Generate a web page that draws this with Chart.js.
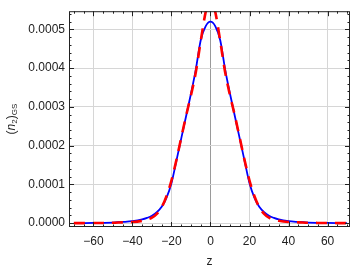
<!DOCTYPE html>
<html>
<head>
<meta charset="utf-8">
<script src="https://cdn.jsdelivr.net/npm/chart.js@4.4.1/dist/chart.umd.min.js"></script>
<style>
  html, body { margin: 0; padding: 0; background: #fff; }
  #wrap { width: 354px; height: 273px; }
</style>
</head>
<body>
<div id="wrap"><canvas id="chart" width="354" height="273"></canvas></div>
<script>
"use strict"
// data
const zValues = [-70, -65, -60, -55, -50, -45, -40, -35, -32.5, -30, -27.5, -25, -22.5, -20, -17.5, -15, -12.5, -10, -7.5, -5, -2.5,
  0, 2.5, 5, 7.5, 10, 12.5, 15, 17.5, 20, 22.5, 25, 27.5, 30, 32.5, 35, 40, 45, 50, 55, 60, 65, 70];

// blue solid curve
const blueValues = [0.0000001, 0.0000002, 0.0000004, 0.0000008, 0.0000015, 0.000003, 0.000005, 0.0000095, 0.0000135, 0.000019, 0.000028, 0.000042, 0.000066, 0.000103, 0.000160, 0.000218, 0.000276, 0.000334, 0.000397, 0.000472, 0.000508,
  0.000520, 0.000508, 0.000472, 0.000397, 0.000334, 0.000276, 0.000218, 0.000160, 0.000103, 0.000066, 0.000042, 0.000028, 0.000019, 0.0000135, 0.0000095, 0.000005, 0.000003, 0.0000015, 0.0000008, 0.0000004, 0.0000002, 0.0000001];

// red dashed curve
const redValues = [0.00000006, 0.00000012, 0.00000025, 0.0000005, 0.000001, 0.000002, 0.0000028, 0.000006, 0.000009, 0.000014, 0.000024, 0.000041, 0.000070, 0.000110, 0.000162, 0.000220, 0.000277, 0.000330, 0.000390, 0.000470, 0.000544,
  0.000585, 0.000544, 0.000470, 0.000390, 0.000330, 0.000277, 0.000220, 0.000162, 0.000110, 0.000070, 0.000041, 0.000024, 0.000014, 0.000009, 0.000006, 0.0000028, 0.000002, 0.000001, 0.0000005, 0.00000025, 0.00000012, 0.00000006];

const xTicks = [-60, -40, -20, 0, 20, 40, 60];
const yTicks = [0, 0.0001, 0.0002, 0.0003, 0.0004, 0.0005];

const FONT = "'Liberation Sans', Arial, sans-serif";
const INK = "#222";

//Ram, inåtriktade streck och axeltitlar
const framePlugin = {
  id: 'frame',
  afterDraw(chart) {
    const ctx = chart.ctx;
    const a = chart.chartArea;
    const xs = chart.scales.x;
    const ys = chart.scales.y;
    ctx.save();
    ctx.strokeStyle = INK;
    ctx.lineWidth = 1;
    ctx.strokeRect(a.left + 0.5, a.top + 0.5, a.right - a.left - 1, a.bottom - a.top - 1);

    ctx.beginPath();
    // x ticks, major every 20, minor every 5
    for (let v = -70; v <= 70; v += 5) {
      const px = Math.round(xs.getPixelForValue(v)) + 0.5;
      if (px < a.left || px > a.right) continue;
      const len = (v % 20 === 0) ? 5 : 2.5;
      ctx.moveTo(px, a.bottom); ctx.lineTo(px, a.bottom - len);
      ctx.moveTo(px, a.top); ctx.lineTo(px, a.top + len);
    }
    // y ticks, major every 0.0001, minor every 0.00002
    for (let i = 0; i <= 27; i++) {
      const v = i * 0.00002;
      const py = Math.round(ys.getPixelForValue(v)) + 0.5;
      if (py < a.top || py > a.bottom) continue;
      const len = (i % 5 === 0) ? 5 : 2.5;
      ctx.moveTo(a.left, py); ctx.lineTo(a.left + len, py);
      ctx.moveTo(a.right, py); ctx.lineTo(a.right - len, py);
    }
    ctx.stroke();

    // x title
    ctx.fillStyle = INK;
    ctx.font = "12px " + FONT;
    ctx.textAlign = 'center';
    ctx.textBaseline = 'middle';
    ctx.fillText('z', (a.left + a.right) / 2, 262);

    // y title (n2)GS, rotated
    ctx.translate(12, (a.top + a.bottom) / 2);
    ctx.rotate(-Math.PI / 2);
    const parts = [
      { t: '(', f: "12px " + FONT, dy: 0 },
      { t: 'n', f: "italic 12px " + FONT, dy: 0 },
      { t: '2', f: "8px " + FONT, dy: 3 },
      { t: ')', f: "12px " + FONT, dy: 0 },
      { t: 'GS', f: "8px " + FONT, dy: 3 }
    ];
    let total = 0;
    parts.forEach(p => { ctx.font = p.f; total += ctx.measureText(p.t).width; });
    let cx = -total / 2;
    ctx.textAlign = 'left';
    parts.forEach(p => {
      ctx.font = p.f;
      ctx.fillText(p.t, cx, p.dy);
      cx += ctx.measureText(p.t).width;
    });
    ctx.restore();
  }
};

const ctx = document.getElementById('chart').getContext('2d');

new Chart(ctx, {
  type: 'line',
  data: {
    datasets: [
      {
        label: 'red',
        data: zValues.map((z, i) => ({ x: z, y: redValues[i] })),
        borderColor: '#ff0000',
        borderWidth: 2.6,
        borderDash: [11, 8],
        pointRadius: 0,
        cubicInterpolationMode: 'monotone',
        order: 0
      },
      {
        label: 'blue',
        data: zValues.map((z, i) => ({ x: z, y: blueValues[i] })),
        borderColor: '#0000ff',
        borderWidth: 1.8,
        pointRadius: 0,
        cubicInterpolationMode: 'monotone',
        order: 1
      }
    ]
  },
  options: {
    responsive: false,
    animation: false,
    events: [],
    layout: { padding: { top: 1, right: 4, left: 0, bottom: 0 } },
    plugins: { legend: { display: false }, tooltip: { enabled: false } },
    scales: {
      x: {
        type: 'linear',
        min: -72.5,
        max: 71.5,
        afterBuildTicks: s => { s.ticks = xTicks.map(v => ({ value: v })); },
        afterFit: s => { s.height = 46; },
        border: { display: false },
        grid: {
          drawTicks: false,
          color: c => c.tick && c.tick.value === 0 ? '#9a9a9a' : '#d6d6d6',
          lineWidth: 1
        },
        ticks: {
          padding: 7,
          color: INK,
          font: { family: FONT, size: 12 },
          maxRotation: 0,
          callback: v => (v < 0 ? '\u2212' + Math.abs(v) : String(v))
        }
      },
      y: {
        min: -0.00001,
        max: 0.000547,
        afterBuildTicks: s => { s.ticks = yTicks.map(v => ({ value: v })); },
        afterFit: s => { s.width = 69; },
        border: { display: false },
        grid: {
          drawTicks: false,
          color: '#d6d6d6',
          lineWidth: 1
        },
        ticks: {
          padding: 4,
          color: INK,
          font: { family: FONT, size: 12 },
          callback: v => v.toFixed(4)
        }
      }
    }
  },
  plugins: [framePlugin]
});
</script>
</body>
</html>
